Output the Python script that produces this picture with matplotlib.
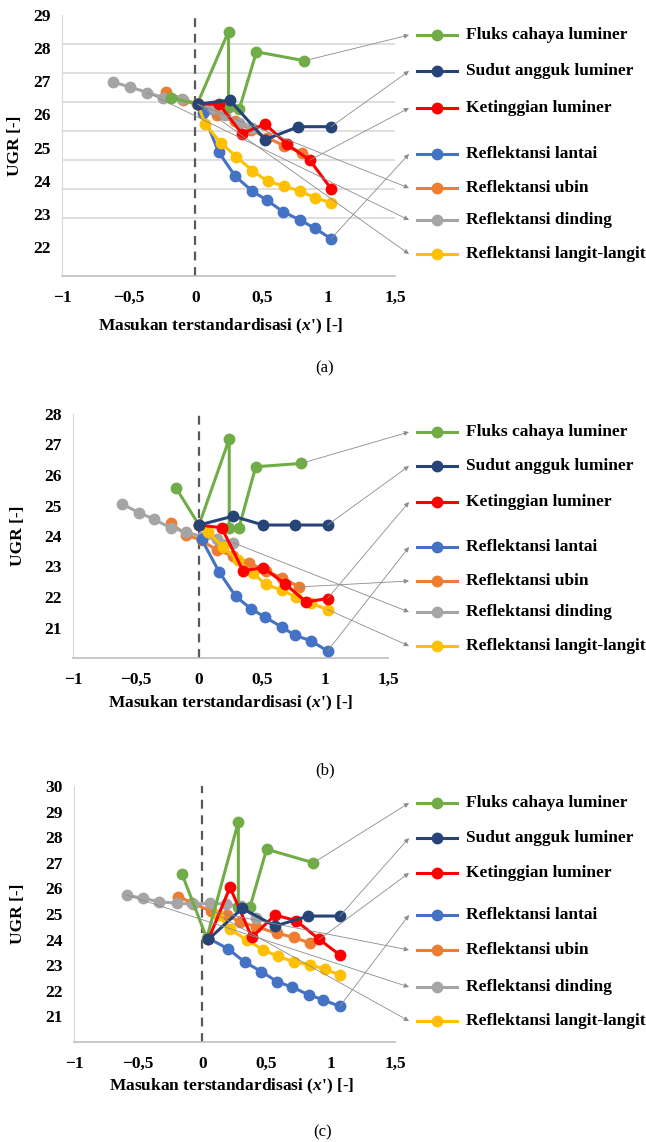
import numpy as np
import matplotlib
matplotlib.use("Agg")
import matplotlib.pyplot as plt
from matplotlib.lines import Line2D
from matplotlib.ticker import FuncFormatter

plt.rcParams['font.family'] = ['Liberation Serif', 'DejaVu Serif']
plt.rcParams['font.weight'] = 'bold'
plt.rcParams['mathtext.fontset'] = 'custom'
plt.rcParams['mathtext.it'] = 'Liberation Serif:italic:bold'
plt.rcParams['mathtext.rm'] = 'Liberation Serif:bold'

W, H = 646, 1142

labels = ["Fluks cahaya luminer", "Sudut angguk luminer", "Ketinggian luminer",
          "Reflektansi lantai", "Reflektansi ubin", "Reflektansi dinding",
          "Reflektansi langit-langit"]
colors = ["#70AD47", "#264478", "#FF0000", "#4472C4", "#ED7D31", "#A5A5A5", "#FFC000"]

# ---- (a) ----
a_fluks_x = [-0.18, 0.015, 0.25, 0.25, 0.33, 0.46, 0.82]
a_fluks_y = [26.5, 26.31, 28.5, 26.23, 26.15, 27.89, 27.62]
a_sudut_x = [0.02, 0.26, 0.525, 0.775, 1.02]
a_sudut_y = [26.31, 26.43, 25.24, 25.63, 25.63]
a_tinggi_x = [0.02, 0.18, 0.35, 0.525, 0.69, 0.86, 1.02]
a_tinggi_y = [26.31, 26.31, 25.42, 25.71, 25.1, 24.62, 23.76]
a_lantai_x = [0.02, 0.06, 0.175, 0.3, 0.43, 0.54, 0.66, 0.79, 0.9, 1.02]
a_lantai_y = [26.31, 26.03, 24.87, 24.14, 23.68, 23.41, 23.06, 22.81, 22.56, 22.25]
a_ubin_x = [-0.22, -0.09, 0.02, 0.16, 0.3, 0.42, 0.54, 0.67, 0.8]
a_ubin_y = [26.68, 26.45, 26.31, 25.98, 25.8, 25.53, 25.3, 25.05, 24.85]
a_dinding_x = [-0.62, -0.49, -0.36, -0.24, -0.1, 0.02, 0.12, 0.22, 0.33, 0.43]
a_dinding_y = [26.98, 26.83, 26.66, 26.51, 26.46, 26.31, 26.15, 25.97, 25.75, 25.58]
a_langit_x = [0.02, 0.075, 0.19, 0.31, 0.43, 0.545, 0.67, 0.79, 0.9, 1.02]
a_langit_y = [26.31, 25.7, 25.15, 24.72, 24.3, 23.98, 23.84, 23.68, 23.49, 23.33]

# ---- (b) ----
b_fluks_x = [-0.18, 0.0, 0.24, 0.24, 0.316, 0.45, 0.81]
b_fluks_y = [25.56, 24.36, 27.18, 24.25, 24.25, 26.27, 26.38]
b_sudut_x = [0.0, 0.27, 0.51, 0.76, 1.02]
b_sudut_y = [24.36, 24.65, 24.36, 24.36, 24.36]
b_tinggi_x = [0.0, 0.18, 0.35, 0.51, 0.68, 0.85, 1.02]
b_tinggi_y = [24.36, 24.27, 22.86, 22.96, 22.44, 21.84, 21.95]
b_lantai_x = [0.02, 0.16, 0.29, 0.41, 0.52, 0.655, 0.76, 0.89, 1.02]
b_lantai_y = [23.9, 22.82, 22.03, 21.62, 21.35, 21.02, 20.75, 20.56, 20.23]
b_ubin_x = [-0.22, -0.1, 0.02, 0.14, 0.27, 0.4, 0.53, 0.66, 0.795]
b_ubin_y = [24.41, 24.03, 23.86, 23.54, 23.35, 23.12, 22.85, 22.63, 22.33]
b_dinding_x = [-0.61, -0.48, -0.355, -0.22, -0.1, 0.02, 0.14, 0.27]
b_dinding_y = [25.05, 24.77, 24.55, 24.25, 24.14, 23.97, 23.9, 23.78]
b_langit_x = [0.07, 0.19, 0.31, 0.43, 0.53, 0.66, 0.77, 0.89, 1.02]
b_langit_y = [24.12, 23.65, 23.2, 22.78, 22.41, 22.22, 22.0, 21.79, 21.59]

# ---- (c) ----
c_fluks_x = [-0.16, 0.034, 0.28, 0.28, 0.37, 0.5, 0.865]
c_fluks_y = [26.58, 24.05, 28.6, 25.29, 25.26, 27.53, 27.0]
c_sudut_x = [0.047, 0.31, 0.566, 0.826, 1.07]
c_sudut_y = [24.01, 25.22, 24.53, 24.92, 24.92]
c_tinggi_x = [0.047, 0.215, 0.385, 0.566, 0.73, 0.91, 1.07]
c_tinggi_y = [24.01, 26.04, 24.09, 24.96, 24.74, 24.01, 23.4]
c_lantai_x = [0.047, 0.2, 0.33, 0.46, 0.58, 0.7, 0.83, 0.94, 1.07]
c_lantai_y = [24.05, 23.64, 23.12, 22.75, 22.36, 22.14, 21.84, 21.65, 21.39]
c_ubin_x = [-0.19, -0.08, 0.07, 0.19, 0.29, 0.42, 0.58, 0.71, 0.84]
c_ubin_y = [25.68, 25.44, 25.1, 24.96, 24.7, 24.5, 24.25, 24.09, 23.86]
c_dinding_x = [-0.59, -0.46, -0.335, -0.2, -0.07, 0.06, 0.18, 0.3, 0.42]
c_dinding_y = [25.74, 25.61, 25.48, 25.42, 25.39, 25.42, 25.39, 25.3, 24.85]
c_langit_x = [0.125, 0.215, 0.345, 0.475, 0.59, 0.71, 0.84, 0.955, 1.07]
c_langit_y = [24.95, 24.4, 23.99, 23.6, 23.34, 23.14, 23.01, 22.84, 22.62]

# which point each pointer line leaves from (same order as labels)
a_pointer_idx = [-1, -1, 5, -1, 2, 2, 0]
b_pointer_idx = [-1, -1, -1, -1, -1, -1, -1]
c_pointer_idx = [-1, -1, 5, -1, 2, 0, 0]

# y tick labels per panel
a_yticks = list(range(22, 30))
b_yticks = list(range(21, 29))
c_yticks = list(range(21, 31))
xticks = [-1, -0.5, 0, 0.5, 1, 1.5]

# drawing order back to front (indices into labels)
zorder_seq = [4, 5, 3, 6, 0, 2, 1]

FS = 12.5


def fmt(v, pos):
    s = f"{v:g}".replace('.', ',')
    return s.replace('-', '\u2212')


def px_rect(left, top, right, bottom):
    return [left / W, 1 - bottom / H, (right - left) / W, (bottom - top) / H]


def panel(fig, rect, series, yticks, ylim, grid_y, pointer_idx, legend_y,
          ylab_x, xlab_xy, tag_xy, tag):
    ax = fig.add_axes(px_rect(*rect))
    ax.set_xlim(-1, 1.5)
    ax.set_ylim(*ylim)
    ax.set_xticks(xticks)
    ax.xaxis.set_major_formatter(FuncFormatter(fmt))
    ax.set_yticks(yticks)
    ax.set_yticks(grid_y, minor=True)
    ax.tick_params(which='both', length=0, labelsize=FS)
    ax.tick_params(axis='y', pad=8)
    ax.tick_params(axis='x', pad=10)
    ax.grid(False)
    ax.grid(axis='y', which='minor', color='#d9d9d9', lw=1.2)
    for s in ['top', 'right']:
        ax.spines[s].set_visible(False)
    ax.spines['left'].set_color('#d9d9d9')
    ax.spines['bottom'].set_color('#bfbfbf')
    ax.spines['bottom'].set_linewidth(1.2)
    ax.axvline(0, color='#595959', lw=1.6, ls=(0, (4, 3)), zorder=2, clip_on=False)

    for k, i in enumerate(zorder_seq):
        x, y = series[i]
        ax.plot(x, y, color=colors[i], lw=2.2, marker='o', ms=7.5,
                mec=colors[i], zorder=3 + k)

    # pointer lines and legend on the right
    for i, lab in enumerate(labels):
        x, y = series[i]
        j = pointer_idx[i]
        ly = 1 - legend_y[i] / H
        ax.annotate('', xy=(409 / W, ly), xycoords='figure fraction',
                    xytext=(x[j], y[j]), textcoords='data',
                    arrowprops=dict(arrowstyle='-|>', color='#8c8c8c', lw=0.6,
                                    mutation_scale=7, shrinkA=0, shrinkB=0),
                    annotation_clip=False, zorder=20)
        fig.add_artist(Line2D([417 / W, 437 / W, 457 / W], [ly, ly, ly],
                              transform=fig.transFigure, color=colors[i], lw=2.2,
                              marker='o', ms=7.5, markevery=[1]))
        fig.text(466 / W, ly, lab, fontsize=FS, va='center', ha='left')

    fig.text(ylab_x / W, 1 - (rect[1] + rect[3]) / 2 / H, "UGR [-]",
             rotation=90, ha='center', va='center', fontsize=FS)
    fig.text(xlab_xy[0] / W, 1 - xlab_xy[1] / H,
             "Masukan terstandardisasi ($x$') [-]", ha='center', va='center',
             fontsize=FS)
    fig.text(tag_xy[0] / W, 1 - tag_xy[1] / H, tag, ha='center', va='center',
             fontsize=12, fontweight='normal')
    return ax


fig = plt.figure(figsize=(W / 100, H / 100), dpi=100)

a_series = [(a_fluks_x, a_fluks_y), (a_sudut_x, a_sudut_y), (a_tinggi_x, a_tinggi_y),
            (a_lantai_x, a_lantai_y), (a_ubin_x, a_ubin_y), (a_dinding_x, a_dinding_y),
            (a_langit_x, a_langit_y)]
b_series = [(b_fluks_x, b_fluks_y), (b_sudut_x, b_sudut_y), (b_tinggi_x, b_tinggi_y),
            (b_lantai_x, b_lantai_y), (b_ubin_x, b_ubin_y), (b_dinding_x, b_dinding_y),
            (b_langit_x, b_langit_y)]
c_series = [(c_fluks_x, c_fluks_y), (c_sudut_x, c_sudut_y), (c_tinggi_x, c_tinggi_y),
            (c_lantai_x, c_lantai_y), (c_ubin_x, c_ubin_y), (c_dinding_x, c_dinding_y),
            (c_langit_x, c_langit_y)]

# panel (a): grid spacing differs from the label spacing
a_step = (a_yticks[-1] - a_yticks[0]) / 8
a_grid = np.linspace(a_yticks[0], a_yticks[-1], 9)
panel(fig, (62, 15, 395, 276), a_series, a_yticks, (a_yticks[0] - a_step, a_yticks[-1]),
      a_grid, a_pointer_idx, [35, 71, 108, 154, 188, 220, 254],
      15, (221, 326), (325, 368), "(a)")
panel(fig, (73, 414, 388, 658), b_series, b_yticks, (b_yticks[0] - 1, b_yticks[-1]),
      b_yticks, b_pointer_idx, [432, 466, 502, 547, 581, 612, 646],
      18, (231, 703), (325, 770), "(b)")
panel(fig, (74, 786, 395, 1042), c_series, c_yticks, (c_yticks[0] - 1, c_yticks[-1]),
      c_yticks, c_pointer_idx, [803, 838, 873, 915, 950, 987, 1021],
      18, (232, 1086), (323, 1132), "(c)")

fig.savefig("out.png", dpi=100)
